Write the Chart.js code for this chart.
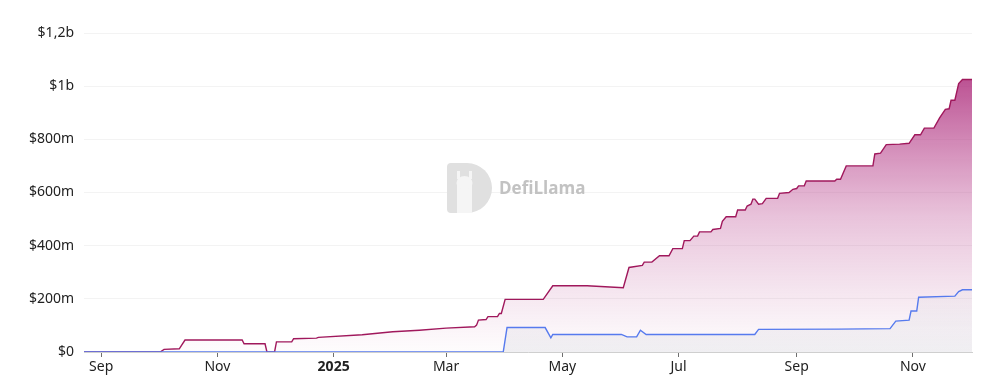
<!DOCTYPE html>
<html>
<head>
<meta charset="utf-8">
<script src="https://cdn.jsdelivr.net/npm/chart.js@4.4.1/dist/chart.umd.min.js"></script>
<style>
  html, body { margin: 0; padding: 0; background: #fff; }
  #wrap { width: 983px; height: 380px; position: relative; }
</style>
</head>
<body>
<div id="wrap"><canvas id="myChart"></canvas></div>
<script>
// data (dates + values in USD)
const pinkDates = [
  '2024-08-23','2024-10-02','2024-10-04','2024-10-12','2024-10-15','2024-11-14','2024-11-15',
  '2024-11-26','2024-11-27','2024-12-01','2024-12-02','2024-12-10','2024-12-11','2024-12-23',
  '2024-12-24','2025-01-16','2025-02-01','2025-02-15','2025-03-01','2025-03-16','2025-03-17',
  '2025-03-18','2025-03-22','2025-03-23','2025-03-28','2025-03-29','2025-03-30','2025-04-01',
  '2025-04-21','2025-04-26','2025-05-14','2025-06-02','2025-06-05','2025-06-12','2025-06-13',
  '2025-06-17','2025-06-21','2025-06-26','2025-06-28','2025-07-03','2025-07-04','2025-07-07',
  '2025-07-09','2025-07-11','2025-07-12','2025-07-18','2025-07-19','2025-07-23','2025-07-24',
  '2025-07-26','2025-07-31','2025-08-01','2025-08-05','2025-08-06','2025-08-08','2025-08-09',
  '2025-08-10','2025-08-12','2025-08-14','2025-08-16','2025-08-22','2025-08-23','2025-08-28',
  '2025-08-30','2025-09-01','2025-09-02','2025-09-05','2025-09-06','2025-09-21','2025-09-22',
  '2025-09-24','2025-09-27','2025-10-11','2025-10-12','2025-10-15','2025-10-18','2025-10-25',
  '2025-10-30','2025-11-02','2025-11-05','2025-11-07','2025-11-12','2025-11-15','2025-11-18',
  '2025-11-20','2025-11-21','2025-11-23','2025-11-25','2025-11-27','2025-12-02'
]
const pinkValues = [
  0,0,10,12,45,45,31,
  31,0,0,38,38,50,52,
  55,65,76,82,90,95,101,
  120,122,133,133,145,145,198,
  198,249,249,242,318,326,338,
  338,362,362,389,389,419,419,
  436,436,452,452,461,465,492,
  509,509,534,534,549,556,575,
  575,556,558,578,578,597,600,
  612,615,625,625,643,643,650,
  650,700,700,745,748,780,782,
  785,817,817,842,842,881,913,
  915,947,947,1010,1025,1025
].map(v => v * 1e6)

const blueDates = [
  '2024-08-23','2025-03-31','2025-04-02','2025-04-22','2025-04-25','2025-04-26','2025-06-01',
  '2025-06-04','2025-06-09','2025-06-11','2025-06-14','2025-08-10','2025-08-12','2025-09-23',
  '2025-10-20','2025-10-23','2025-10-30','2025-10-31','2025-11-03','2025-11-04','2025-11-23',
  '2025-11-25','2025-11-27','2025-12-02'
]
const blueValues = [
  0,0,92,92,53,66,66,
  57,57,82,66,66,85,86,
  88,116,120,154,154,206,210,
  227,234,234
].map(v => v * 1e6)

const tickDates = ['2024-09-01','2024-11-01','2025-01-01','2025-03-01','2025-05-01','2025-07-01','2025-09-01','2025-11-01']
const tickLabels = ['Sep','Nov','2025','Mar','May','Jul','Sep','Nov']

const startDate = '2024-08-23'
const endDate = '2025-12-02'

function dia(s){
  return (Date.parse(s) - Date.parse(startDate)) / 864e5
}

function pontos(datas, valores){
  return datas.map((d, i) => ({ x: dia(d), y: valores[i] }))
}

function fmtDolar(v){
  if (v === 0) return '$0'
  if (v >= 1e9) return '$' + String(v / 1e9).replace('.', ',') + 'b'
  return '$' + (v / 1e6) + 'm'
}

function gradRosa(context){
  const area = context.chart.chartArea
  if (!area) return 'rgba(180,60,135,0.3)'
  const g = context.chart.ctx.createLinearGradient(0, 79, 0, area.bottom)
  g.addColorStop(0, 'rgba(176,52,128,0.85)')
  g.addColorStop(0.5, 'rgba(190,80,150,0.35)')
  g.addColorStop(1, 'rgba(200,120,170,0.02)')
  return g
}

function gradCinza(context){
  const area = context.chart.chartArea
  if (!area) return 'rgba(200,200,210,0.2)'
  const g = context.chart.ctx.createLinearGradient(0, 290, 0, area.bottom)
  g.addColorStop(0, 'rgba(215,215,222,0.15)')
  g.addColorStop(1, 'rgba(215,215,222,0.35)')
  return g
}

// marca d'agua DefiLlama
const marcaDagua = {
  id: 'marcaDagua',
  beforeDatasetsDraw(chart){
    const c = chart.ctx
    c.save()
    const x = 447, y = 163, h = 50
    c.fillStyle = '#e0e0e0'
    c.beginPath()
    c.moveTo(x + 4, y)
    c.lineTo(x + 20, y)
    c.arc(x + 20, y + h / 2, h / 2, -Math.PI / 2, Math.PI / 2)
    c.lineTo(x + 4, y + h)
    c.quadraticCurveTo(x, y + h, x, y + h - 4)
    c.lineTo(x, y + 4)
    c.quadraticCurveTo(x, y, x + 4, y)
    c.fill()
    // lhama
    c.fillStyle = '#f5f5f5'
    c.fillRect(x + 10, y + 22, 15, 28)
    c.beginPath()
    c.ellipse(x + 17.5, y + 20, 8, 7, 0, 0, Math.PI * 2)
    c.fill()
    c.fillRect(x + 10, y + 8, 3, 8)
    c.fillRect(x + 22, y + 8, 3, 8)
    c.fillStyle = '#c2c2c2'
    c.font = 'bold 17px "Open Sans", "Noto Sans", sans-serif'
    c.textBaseline = 'middle'
    c.fillText('DefiLlama', 499, 189)
    c.restore()
  }
}

const ctx = document.getElementById('myChart')

const data = {
  datasets: [
    {
      label: 'azul',
      data: pontos(blueDates, blueValues),
      borderColor: 'rgb(86,122,238)',
      borderWidth: 1.4,
      backgroundColor: gradCinza,
      fill: 'origin',
      pointRadius: 0,
      tension: 0,
      order: 0
    },
    {
      label: 'rosa',
      data: pontos(pinkDates, pinkValues),
      borderColor: 'rgb(160,24,92)',
      borderWidth: 1.4,
      backgroundColor: gradRosa,
      fill: 'origin',
      pointRadius: 0,
      tension: 0,
      order: 1
    }
  ]
}

const config = {
  type: 'line',
  data: data,
  plugins: [marcaDagua],
  options: {
    responsive: true,
    maintainAspectRatio: false,
    animation: false,
    layout: { padding: { top: 33, right: 11, left: 0, bottom: 0 } },
    plugins: { legend: { display: false }, tooltip: { enabled: false } },
    scales: {
      x: {
        type: 'linear',
        min: 0,
        max: dia(endDate),
        afterBuildTicks: scale => {
          scale.ticks = tickDates.map(d => ({ value: dia(d) }))
        },
        afterFit: scale => { scale.height = 28 },
        grid: {
          drawOnChartArea: false,
          drawTicks: true,
          tickLength: 5,
          tickColor: '#6e6e6e'
        },
        border: { display: true, color: '#cfcfcf', width: 1 },
        ticks: {
          autoSkip: false,
          maxRotation: 0,
          padding: 2,
          color: '#222',
          font: c => ({
            family: '"Noto Sans", "Open Sans", sans-serif',
            size: 14,
            weight: (c.tick && c.tick.label === '2025') ? 'bold' : 'normal'
          }),
          callback: (v, i) => tickLabels[i]
        }
      },
      y: {
        min: 0,
        max: 1.2e9,
        afterBuildTicks: scale => {
          scale.ticks = [0, 2e8, 4e8, 6e8, 8e8, 1e9, 1.2e9].map(v => ({ value: v }))
        },
        afterFit: scale => { scale.width = 84 },
        grid: { color: '#f3f3f3', drawTicks: false },
        border: { display: false },
        ticks: {
          padding: 10,
          color: '#222',
          font: { family: '"Noto Sans", "Open Sans", sans-serif', size: 14 },
          callback: v => fmtDolar(v)
        }
      }
    }
  }
}

const myChart = new Chart(ctx, config)
</script>
</body>
</html>
